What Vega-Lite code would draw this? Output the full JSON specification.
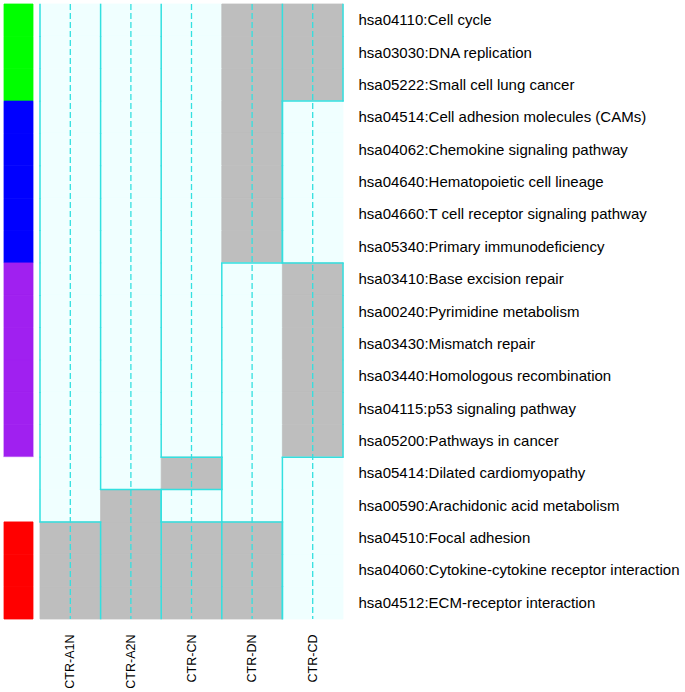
{
  "$schema": "https://vega.github.io/schema/vega-lite/v6.json",
  "padding": {"left": 3, "top": 3, "right": 0, "bottom": 0},
  "background": "white",
  "config": {"view": {"stroke": null}, "concat": {"spacing": 5}},
  "datasets": {
    "groups": [
      {"pathway": "hsa04110:Cell cycle", "group": "A"},
      {"pathway": "hsa03030:DNA replication", "group": "A"},
      {"pathway": "hsa05222:Small cell lung cancer", "group": "A"},
      {"pathway": "hsa04514:Cell adhesion molecules (CAMs)", "group": "B"},
      {"pathway": "hsa04062:Chemokine signaling pathway", "group": "B"},
      {"pathway": "hsa04640:Hematopoietic cell lineage", "group": "B"},
      {"pathway": "hsa04660:T cell receptor signaling pathway", "group": "B"},
      {"pathway": "hsa05340:Primary immunodeficiency", "group": "B"},
      {"pathway": "hsa03410:Base excision repair", "group": "C"},
      {"pathway": "hsa00240:Pyrimidine metabolism", "group": "C"},
      {"pathway": "hsa03430:Mismatch repair", "group": "C"},
      {"pathway": "hsa03440:Homologous recombination", "group": "C"},
      {"pathway": "hsa04115:p53 signaling pathway", "group": "C"},
      {"pathway": "hsa05200:Pathways in cancer", "group": "C"},
      {"pathway": "hsa05414:Dilated cardiomyopathy", "group": "none"},
      {"pathway": "hsa00590:Arachidonic acid metabolism", "group": "none"},
      {"pathway": "hsa04510:Focal adhesion", "group": "D"},
      {"pathway": "hsa04060:Cytokine-cytokine receptor interaction", "group": "D"},
      {"pathway": "hsa04512:ECM-receptor interaction", "group": "D"}
    ],
    "samples": [
      {"sample": "CTR-A1N"}, {"sample": "CTR-A2N"}, {"sample": "CTR-CN"}, {"sample": "CTR-DN"}, {"sample": "CTR-CD"}
    ],
    "cells": [
      {"pathway": "hsa04110:Cell cycle", "sample": "CTR-A1N", "value": 0, "trans": 0},
      {"pathway": "hsa04110:Cell cycle", "sample": "CTR-A2N", "value": 0, "trans": 0},
      {"pathway": "hsa04110:Cell cycle", "sample": "CTR-CN", "value": 0, "trans": 0},
      {"pathway": "hsa04110:Cell cycle", "sample": "CTR-DN", "value": 1, "trans": 0},
      {"pathway": "hsa04110:Cell cycle", "sample": "CTR-CD", "value": 1, "trans": 0},
      {"pathway": "hsa03030:DNA replication", "sample": "CTR-A1N", "value": 0, "trans": 0},
      {"pathway": "hsa03030:DNA replication", "sample": "CTR-A2N", "value": 0, "trans": 0},
      {"pathway": "hsa03030:DNA replication", "sample": "CTR-CN", "value": 0, "trans": 0},
      {"pathway": "hsa03030:DNA replication", "sample": "CTR-DN", "value": 1, "trans": 0},
      {"pathway": "hsa03030:DNA replication", "sample": "CTR-CD", "value": 1, "trans": 0},
      {"pathway": "hsa05222:Small cell lung cancer", "sample": "CTR-A1N", "value": 0, "trans": 0},
      {"pathway": "hsa05222:Small cell lung cancer", "sample": "CTR-A2N", "value": 0, "trans": 0},
      {"pathway": "hsa05222:Small cell lung cancer", "sample": "CTR-CN", "value": 0, "trans": 0},
      {"pathway": "hsa05222:Small cell lung cancer", "sample": "CTR-DN", "value": 1, "trans": 0},
      {"pathway": "hsa05222:Small cell lung cancer", "sample": "CTR-CD", "value": 1, "trans": 1},
      {"pathway": "hsa04514:Cell adhesion molecules (CAMs)", "sample": "CTR-A1N", "value": 0, "trans": 0},
      {"pathway": "hsa04514:Cell adhesion molecules (CAMs)", "sample": "CTR-A2N", "value": 0, "trans": 0},
      {"pathway": "hsa04514:Cell adhesion molecules (CAMs)", "sample": "CTR-CN", "value": 0, "trans": 0},
      {"pathway": "hsa04514:Cell adhesion molecules (CAMs)", "sample": "CTR-DN", "value": 1, "trans": 0},
      {"pathway": "hsa04514:Cell adhesion molecules (CAMs)", "sample": "CTR-CD", "value": 0, "trans": 0},
      {"pathway": "hsa04062:Chemokine signaling pathway", "sample": "CTR-A1N", "value": 0, "trans": 0},
      {"pathway": "hsa04062:Chemokine signaling pathway", "sample": "CTR-A2N", "value": 0, "trans": 0},
      {"pathway": "hsa04062:Chemokine signaling pathway", "sample": "CTR-CN", "value": 0, "trans": 0},
      {"pathway": "hsa04062:Chemokine signaling pathway", "sample": "CTR-DN", "value": 1, "trans": 0},
      {"pathway": "hsa04062:Chemokine signaling pathway", "sample": "CTR-CD", "value": 0, "trans": 0},
      {"pathway": "hsa04640:Hematopoietic cell lineage", "sample": "CTR-A1N", "value": 0, "trans": 0},
      {"pathway": "hsa04640:Hematopoietic cell lineage", "sample": "CTR-A2N", "value": 0, "trans": 0},
      {"pathway": "hsa04640:Hematopoietic cell lineage", "sample": "CTR-CN", "value": 0, "trans": 0},
      {"pathway": "hsa04640:Hematopoietic cell lineage", "sample": "CTR-DN", "value": 1, "trans": 0},
      {"pathway": "hsa04640:Hematopoietic cell lineage", "sample": "CTR-CD", "value": 0, "trans": 0},
      {"pathway": "hsa04660:T cell receptor signaling pathway", "sample": "CTR-A1N", "value": 0, "trans": 0},
      {"pathway": "hsa04660:T cell receptor signaling pathway", "sample": "CTR-A2N", "value": 0, "trans": 0},
      {"pathway": "hsa04660:T cell receptor signaling pathway", "sample": "CTR-CN", "value": 0, "trans": 0},
      {"pathway": "hsa04660:T cell receptor signaling pathway", "sample": "CTR-DN", "value": 1, "trans": 0},
      {"pathway": "hsa04660:T cell receptor signaling pathway", "sample": "CTR-CD", "value": 0, "trans": 0},
      {"pathway": "hsa05340:Primary immunodeficiency", "sample": "CTR-A1N", "value": 0, "trans": 0},
      {"pathway": "hsa05340:Primary immunodeficiency", "sample": "CTR-A2N", "value": 0, "trans": 0},
      {"pathway": "hsa05340:Primary immunodeficiency", "sample": "CTR-CN", "value": 0, "trans": 0},
      {"pathway": "hsa05340:Primary immunodeficiency", "sample": "CTR-DN", "value": 1, "trans": 1},
      {"pathway": "hsa05340:Primary immunodeficiency", "sample": "CTR-CD", "value": 0, "trans": 1},
      {"pathway": "hsa03410:Base excision repair", "sample": "CTR-A1N", "value": 0, "trans": 0},
      {"pathway": "hsa03410:Base excision repair", "sample": "CTR-A2N", "value": 0, "trans": 0},
      {"pathway": "hsa03410:Base excision repair", "sample": "CTR-CN", "value": 0, "trans": 0},
      {"pathway": "hsa03410:Base excision repair", "sample": "CTR-DN", "value": 0, "trans": 0},
      {"pathway": "hsa03410:Base excision repair", "sample": "CTR-CD", "value": 1, "trans": 0},
      {"pathway": "hsa00240:Pyrimidine metabolism", "sample": "CTR-A1N", "value": 0, "trans": 0},
      {"pathway": "hsa00240:Pyrimidine metabolism", "sample": "CTR-A2N", "value": 0, "trans": 0},
      {"pathway": "hsa00240:Pyrimidine metabolism", "sample": "CTR-CN", "value": 0, "trans": 0},
      {"pathway": "hsa00240:Pyrimidine metabolism", "sample": "CTR-DN", "value": 0, "trans": 0},
      {"pathway": "hsa00240:Pyrimidine metabolism", "sample": "CTR-CD", "value": 1, "trans": 0},
      {"pathway": "hsa03430:Mismatch repair", "sample": "CTR-A1N", "value": 0, "trans": 0},
      {"pathway": "hsa03430:Mismatch repair", "sample": "CTR-A2N", "value": 0, "trans": 0},
      {"pathway": "hsa03430:Mismatch repair", "sample": "CTR-CN", "value": 0, "trans": 0},
      {"pathway": "hsa03430:Mismatch repair", "sample": "CTR-DN", "value": 0, "trans": 0},
      {"pathway": "hsa03430:Mismatch repair", "sample": "CTR-CD", "value": 1, "trans": 0},
      {"pathway": "hsa03440:Homologous recombination", "sample": "CTR-A1N", "value": 0, "trans": 0},
      {"pathway": "hsa03440:Homologous recombination", "sample": "CTR-A2N", "value": 0, "trans": 0},
      {"pathway": "hsa03440:Homologous recombination", "sample": "CTR-CN", "value": 0, "trans": 0},
      {"pathway": "hsa03440:Homologous recombination", "sample": "CTR-DN", "value": 0, "trans": 0},
      {"pathway": "hsa03440:Homologous recombination", "sample": "CTR-CD", "value": 1, "trans": 0},
      {"pathway": "hsa04115:p53 signaling pathway", "sample": "CTR-A1N", "value": 0, "trans": 0},
      {"pathway": "hsa04115:p53 signaling pathway", "sample": "CTR-A2N", "value": 0, "trans": 0},
      {"pathway": "hsa04115:p53 signaling pathway", "sample": "CTR-CN", "value": 0, "trans": 0},
      {"pathway": "hsa04115:p53 signaling pathway", "sample": "CTR-DN", "value": 0, "trans": 0},
      {"pathway": "hsa04115:p53 signaling pathway", "sample": "CTR-CD", "value": 1, "trans": 0},
      {"pathway": "hsa05200:Pathways in cancer", "sample": "CTR-A1N", "value": 0, "trans": 0},
      {"pathway": "hsa05200:Pathways in cancer", "sample": "CTR-A2N", "value": 0, "trans": 0},
      {"pathway": "hsa05200:Pathways in cancer", "sample": "CTR-CN", "value": 0, "trans": 1},
      {"pathway": "hsa05200:Pathways in cancer", "sample": "CTR-DN", "value": 0, "trans": 0},
      {"pathway": "hsa05200:Pathways in cancer", "sample": "CTR-CD", "value": 1, "trans": 1},
      {"pathway": "hsa05414:Dilated cardiomyopathy", "sample": "CTR-A1N", "value": 0, "trans": 0},
      {"pathway": "hsa05414:Dilated cardiomyopathy", "sample": "CTR-A2N", "value": 0, "trans": 1},
      {"pathway": "hsa05414:Dilated cardiomyopathy", "sample": "CTR-CN", "value": 1, "trans": 1},
      {"pathway": "hsa05414:Dilated cardiomyopathy", "sample": "CTR-DN", "value": 0, "trans": 0},
      {"pathway": "hsa05414:Dilated cardiomyopathy", "sample": "CTR-CD", "value": 0, "trans": 0},
      {"pathway": "hsa00590:Arachidonic acid metabolism", "sample": "CTR-A1N", "value": 0, "trans": 1},
      {"pathway": "hsa00590:Arachidonic acid metabolism", "sample": "CTR-A2N", "value": 1, "trans": 0},
      {"pathway": "hsa00590:Arachidonic acid metabolism", "sample": "CTR-CN", "value": 0, "trans": 1},
      {"pathway": "hsa00590:Arachidonic acid metabolism", "sample": "CTR-DN", "value": 0, "trans": 1},
      {"pathway": "hsa00590:Arachidonic acid metabolism", "sample": "CTR-CD", "value": 0, "trans": 0},
      {"pathway": "hsa04510:Focal adhesion", "sample": "CTR-A1N", "value": 1, "trans": 0},
      {"pathway": "hsa04510:Focal adhesion", "sample": "CTR-A2N", "value": 1, "trans": 0},
      {"pathway": "hsa04510:Focal adhesion", "sample": "CTR-CN", "value": 1, "trans": 0},
      {"pathway": "hsa04510:Focal adhesion", "sample": "CTR-DN", "value": 1, "trans": 0},
      {"pathway": "hsa04510:Focal adhesion", "sample": "CTR-CD", "value": 0, "trans": 0},
      {"pathway": "hsa04060:Cytokine-cytokine receptor interaction", "sample": "CTR-A1N", "value": 1, "trans": 0},
      {"pathway": "hsa04060:Cytokine-cytokine receptor interaction", "sample": "CTR-A2N", "value": 1, "trans": 0},
      {"pathway": "hsa04060:Cytokine-cytokine receptor interaction", "sample": "CTR-CN", "value": 1, "trans": 0},
      {"pathway": "hsa04060:Cytokine-cytokine receptor interaction", "sample": "CTR-DN", "value": 1, "trans": 0},
      {"pathway": "hsa04060:Cytokine-cytokine receptor interaction", "sample": "CTR-CD", "value": 0, "trans": 0},
      {"pathway": "hsa04512:ECM-receptor interaction", "sample": "CTR-A1N", "value": 1, "trans": 0},
      {"pathway": "hsa04512:ECM-receptor interaction", "sample": "CTR-A2N", "value": 1, "trans": 0},
      {"pathway": "hsa04512:ECM-receptor interaction", "sample": "CTR-CN", "value": 1, "trans": 0},
      {"pathway": "hsa04512:ECM-receptor interaction", "sample": "CTR-DN", "value": 1, "trans": 0},
      {"pathway": "hsa04512:ECM-receptor interaction", "sample": "CTR-CD", "value": 0, "trans": 0}
    ]
  },
  "resolve": {"scale": {"fill": "independent", "stroke": "independent", "y": "independent"}},
  "hconcat": [
    {
      "width": 29,
      "height": 615,
      "data": {"name": "groups"},
      "mark": {"type": "rect", "strokeWidth": 0.8},
      "encoding": {
        "y": {"field": "pathway", "type": "nominal", "sort": null, "axis": null,
              "scale": {"paddingInner": 0, "paddingOuter": 0}},
        "fill": {"field": "group", "type": "nominal", "legend": null,
                 "scale": {"domain": ["A", "B", "C", "none", "D"],
                           "range": ["#00FF00", "#0000FF", "#A020F0", "#FFFFFF", "#FF0000"]}},
        "stroke": {"field": "group", "type": "nominal", "legend": null,
                   "scale": {"domain": ["A", "B", "C", "none", "D"],
                             "range": ["#00FF00", "#0000FF", "#A020F0", "#FFFFFF", "#FF0000"]}}
      }
    },
    {
      "width": 303,
      "height": 615,
      "data": {"name": "cells"},
      "layer": [
        {
          "mark": {"type": "rect", "strokeWidth": 0.8},
          "encoding": {
            "x": {"field": "sample", "type": "nominal", "sort": null, "title": null,
                  "scale": {"domain": ["CTR-A1N", "CTR-A2N", "CTR-CN", "CTR-DN", "CTR-CD"], "paddingInner": 0, "paddingOuter": 0},
                  "axis": {"orient": "bottom", "labelAngle": -90, "labelPadding": 15, "ticks": false, "domain": false,
                           "labelFont": "Liberation Sans", "labelFontSize": 12.5, "labelColor": "#000000"}},
            "y": {"field": "pathway", "type": "nominal", "sort": null, "title": null,
                  "scale": {"paddingInner": 0, "paddingOuter": 0},
                  "axis": {"orient": "right", "labelPadding": 15, "ticks": false, "domain": false,
                           "labelFont": "Liberation Sans", "labelFontSize": 15, "labelColor": "#000000", "labelLimit": 400}},
            "fill": {"field": "value", "type": "nominal", "legend": null,
                     "scale": {"domain": [0, 1], "range": ["#F0FFFF", "#BEBEBE"]}},
            "stroke": {"field": "value", "type": "nominal", "legend": null,
                       "scale": {"domain": [0, 1], "range": ["#F0FFFF", "#BEBEBE"]}}
          }
        },
        {
          "data": {"name": "samples"},
          "mark": {"type": "rule", "color": "#33E0E0", "strokeWidth": 1.3, "strokeDash": [6, 3]},
          "encoding": {
            "x": {"field": "sample", "type": "nominal", "bandPosition": 0.5}
          }
        },
        {
          "transform": [{"filter": "datum.value == 0"}],
          "mark": {"type": "tick", "orient": "vertical", "color": "#33E0E0", "opacity": 1, "size": 33, "thickness": 1.5},
          "encoding": {
            "x": {"field": "sample", "type": "nominal", "bandPosition": 0},
            "y": {"field": "pathway", "type": "nominal", "sort": null}
          }
        },
        {
          "transform": [{"filter": "datum.value == 1"}],
          "mark": {"type": "tick", "orient": "vertical", "color": "#33E0E0", "opacity": 1, "size": 33, "thickness": 1.5},
          "encoding": {
            "x": {"field": "sample", "type": "nominal", "bandPosition": 1},
            "y": {"field": "pathway", "type": "nominal", "sort": null}
          }
        },
        {
          "transform": [{"filter": "datum.trans == 1"}],
          "mark": {"type": "tick", "orient": "horizontal", "color": "#33E0E0", "opacity": 1, "size": 62, "thickness": 1.5},
          "encoding": {
            "x": {"field": "sample", "type": "nominal", "bandPosition": 0.5},
            "y": {"field": "pathway", "type": "nominal", "sort": null, "bandPosition": 1}
          }
        }
      ]
    }
  ]
}
